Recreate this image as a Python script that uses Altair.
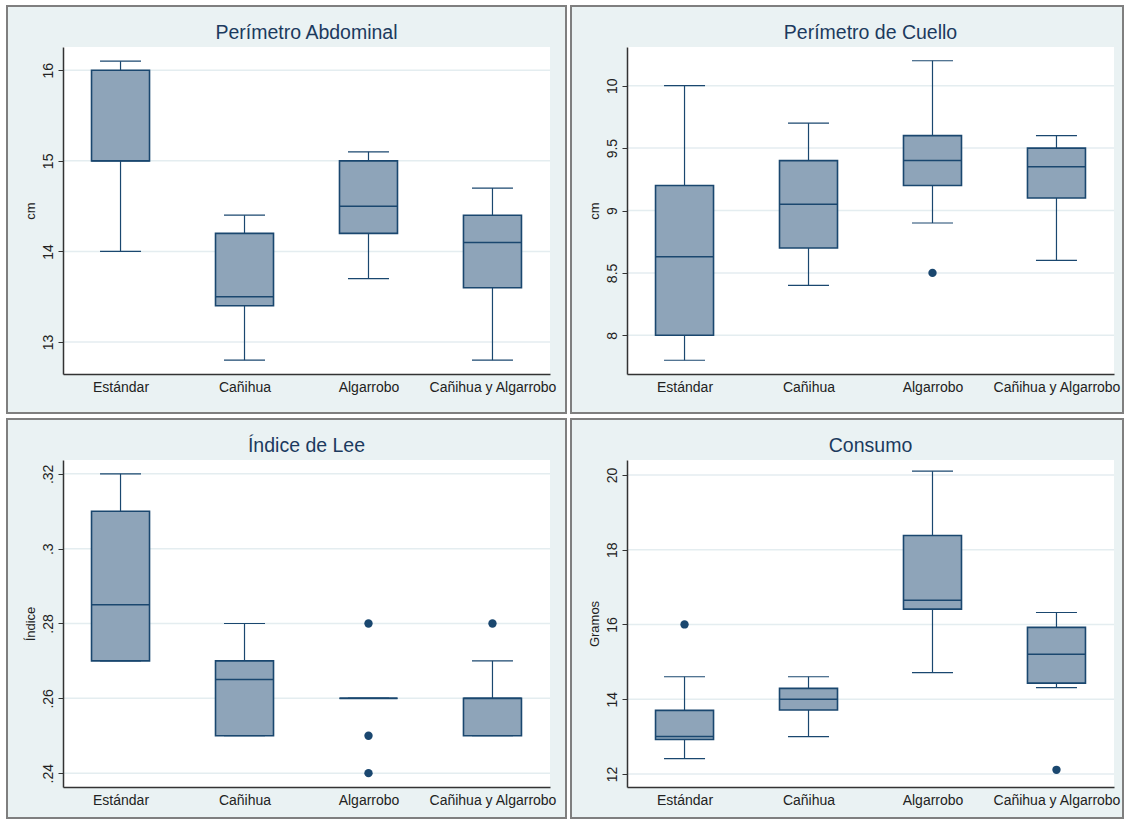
import altair as alt
import pandas as pd

categories = ["Estándar", "Cañihua", "Algarrobo", "Cañihua y Algarrobo"]

# Perímetro Abdominal (cm)
abd_low = [14.0, 12.8, 13.7, 12.8]
abd_q1 = [15.0, 13.4, 14.2, 13.6]
abd_med = [15.0, 13.5, 14.5, 14.1]
abd_q3 = [16.0, 14.2, 15.0, 14.4]
abd_high = [16.1, 14.4, 15.1, 14.7]
abd_out_cat = []
abd_out_val = []
abd_ticks = [13, 14, 15, 16]
abd_domain = [12.647, 16.257]

# Perímetro de Cuello (cm)
cue_low = [7.8, 8.4, 8.9, 8.6]
cue_q1 = [8.0, 8.7, 9.2, 9.1]
cue_med = [8.63, 9.05, 9.4, 9.35]
cue_q3 = [9.2, 9.4, 9.6, 9.5]
cue_high = [10.0, 9.7, 10.2, 9.6]
cue_out_cat = ["Algarrobo"]
cue_out_val = [8.5]
cue_ticks = [8, 8.5, 9, 9.5, 10]
cue_domain = [7.69, 10.31]

# Índice de Lee
lee_low = [0.27, 0.25, 0.26, 0.25]
lee_q1 = [0.27, 0.25, 0.26, 0.25]
lee_med = [0.285, 0.265, 0.26, 0.26]
lee_q3 = [0.31, 0.27, 0.26, 0.26]
lee_high = [0.32, 0.28, 0.26, 0.27]
lee_out_cat = ["Algarrobo", "Algarrobo", "Algarrobo", "Cañihua y Algarrobo"]
lee_out_val = [0.28, 0.25, 0.24, 0.28]
lee_ticks = [0.24, 0.26, 0.28, 0.30, 0.32]
lee_domain = [0.2363, 0.3237]

# Consumo (gramos)
con_low = [12.41, 13.0, 14.71, 14.31]
con_q1 = [12.92, 13.71, 16.41, 14.43]
con_med = [13.0, 14.0, 16.65, 15.2]
con_q3 = [13.7, 14.29, 18.38, 15.92]
con_high = [14.6, 14.6, 20.1, 16.32]
con_out_cat = ["Estándar", "Cañihua y Algarrobo"]
con_out_val = [16.0, 12.11]
con_ticks = [12, 14, 16, 18, 20]
con_domain = [11.65, 20.4]

W, H = 487, 327
BOX_FILL = "#8EA4B9"
NAVY = "#1A476F"
BG = "#EAF2F3"
GRID = "#E4EDF0"
FRAME = "#7F7F7F"
TITLE = "#1C3A5E"
TEXT = "#222222"
FONT = "Liberation Sans"


def panel(title, ytitle, low, q1, med, q3, high, out_cat, out_val, ticks,
          domain, label_expr, frame_right, frame_bottom):
    df = pd.DataFrame({"cat": categories, "low": low, "q1": q1, "med": med,
                       "q3": q3, "high": high})
    out = pd.DataFrame({"cat": out_cat, "val": out_val})
    grid = pd.DataFrame({"t": ticks})
    one = pd.DataFrame({"k": [0]})

    xenc = alt.X("cat:N", sort=categories,
                 scale=alt.Scale(type="point", domain=categories, padding=0.464),
                 axis=alt.Axis(title=None, labelAngle=0, ticks=False, tickSize=0,
                               labelPadding=6, labelFontSize=14, labelFont=FONT,
                               labelColor=TEXT, domainColor="#333333",
                               domainWidth=1.5, grid=False, zindex=1))
    yscale = alt.Scale(domain=domain, nice=False, zero=False)
    yaxis = alt.Axis(title=ytitle, values=ticks, labelExpr=label_expr, grid=False,
                     labelAngle=270, labelAlign="center", labelBaseline="bottom",
                     labelPadding=3, tickSize=5, tickColor="#333333",
                     domainColor="#333333", domainWidth=1.5, labelFontSize=14,
                     titleFontSize=13, titleFontWeight="normal", titleFont=FONT,
                     labelFont=FONT, titleColor=TEXT, labelColor=TEXT,
                     titlePadding=4, zindex=1)

    frame = alt.Chart(one).mark_rect(fill=BG, stroke=FRAME, strokeWidth=2).encode(
        x=alt.value(-56), x2=alt.value(W + frame_right),
        y=alt.value(-41), y2=alt.value(H + frame_bottom))
    plotbg = alt.Chart(one).mark_rect(fill="white").encode(
        x=alt.value(0), x2=alt.value(W), y=alt.value(0), y2=alt.value(H))
    gridl = alt.Chart(grid).mark_rule(color=GRID, strokeWidth=1.5).encode(
        y=alt.Y("t:Q", scale=yscale, axis=yaxis), x=alt.value(0), x2=alt.value(W))
    whisk = alt.Chart(df).mark_rule(color=NAVY, strokeWidth=1.2).encode(
        x=xenc, y=alt.Y("low:Q", scale=yscale, axis=yaxis), y2="high:Q")
    box = alt.Chart(df).mark_bar(size=58, fill=BOX_FILL, stroke=NAVY,
                                 strokeWidth=1.6, opacity=1).encode(
        x=xenc, y=alt.Y("q1:Q", scale=yscale, axis=yaxis), y2="q3:Q")
    median = alt.Chart(df).mark_tick(color=NAVY, size=58, thickness=1.5,
                                     orient="horizontal", opacity=1).encode(
        x=xenc, y=alt.Y("med:Q", scale=yscale, axis=yaxis))
    cap_lo = alt.Chart(df).mark_tick(color=NAVY, size=41, thickness=1.2,
                                     orient="horizontal", opacity=1).encode(
        x=xenc, y=alt.Y("low:Q", scale=yscale, axis=yaxis))
    cap_hi = alt.Chart(df).mark_tick(color=NAVY, size=41, thickness=1.2,
                                     orient="horizontal", opacity=1).encode(
        x=xenc, y=alt.Y("high:Q", scale=yscale, axis=yaxis))
    layers = [frame, plotbg, gridl, whisk, box, median, cap_lo, cap_hi]
    if len(out_cat) > 0:
        pts = alt.Chart(out).mark_circle(size=70, color=NAVY, opacity=1).encode(
            x=xenc, y=alt.Y("val:Q", scale=yscale, axis=yaxis))
        layers.append(pts)
    ttl = alt.Chart(one).mark_text(text=title, font=FONT, fontSize=19.5,
                                   color=TITLE, baseline="middle").encode(
        x=alt.value(W / 2), y=alt.value(-14))
    layers.append(ttl)
    return alt.layer(*layers).properties(width=W, height=H)


fmt_plain = "format(datum.value, '~g')"
fmt_lee = "substring(format(datum.value, '.2~f'), 1)"

p1 = panel("Perímetro Abdominal", "cm", abd_low, abd_q1, abd_med, abd_q3, abd_high,
           abd_out_cat, abd_out_val, abd_ticks, abd_domain, fmt_plain, 16, 39)
p2 = panel("Perímetro de Cuello", "cm", cue_low, cue_q1, cue_med, cue_q3, cue_high,
           cue_out_cat, cue_out_val, cue_ticks, cue_domain, fmt_plain, 9, 39)
p3 = panel("Índice de Lee", "Índice", lee_low, lee_q1, lee_med, lee_q3, lee_high,
           lee_out_cat, lee_out_val, lee_ticks, lee_domain, fmt_lee, 16, 31)
p4 = panel("Consumo", "Gramos", con_low, con_q1, con_med, con_q3, con_high,
           con_out_cat, con_out_val, con_ticks, con_domain, fmt_plain, 9, 31)

chart = alt.vconcat(
    alt.hconcat(p1, p2, spacing=3),
    alt.hconcat(p3, p4, spacing=3),
    spacing=4,
).properties(
    padding={"left": 6, "top": 5, "right": 0, "bottom": 0},
    background="white",
).configure_view(strokeWidth=0)

chart.save("out.html", embed_options={"renderer": "svg", "actions": False})
